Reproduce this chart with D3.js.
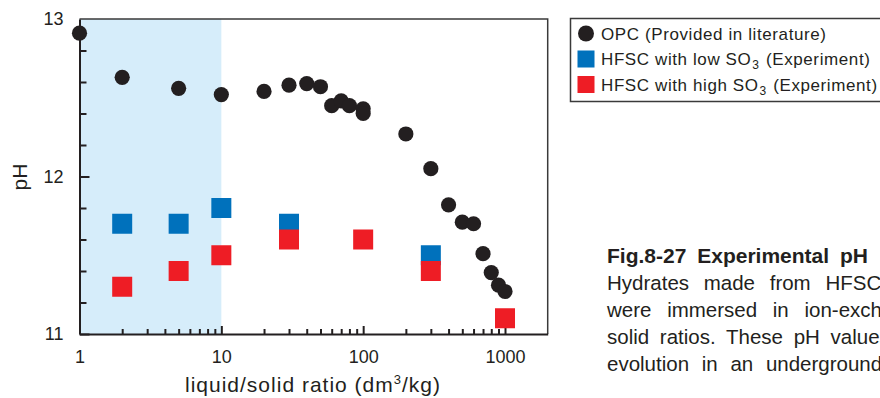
<!DOCTYPE html>
<html>
<head>
<meta charset="utf-8">
<script src="https://cdn.jsdelivr.net/npm/d3@7"></script>
<style>
  html, body { margin: 0; padding: 0; background: #fff; }
  svg { display: block; font-family: "Liberation Sans", Arial, sans-serif; }
</style>
</head>
<body>
<div id="chart"></div>
<script>
// ---- Data
const opcRatio = [1, 2, 5, 10, 20, 30, 40, 50, 60, 70, 80, 100, 100, 200, 300, 400, 500, 600, 700, 800, 900, 1000];
const opcPH    = [12.91, 12.63, 12.56, 12.52, 12.54, 12.58, 12.59, 12.57, 12.45, 12.48, 12.45, 12.43, 12.40, 12.27, 12.05, 11.82, 11.71, 11.70, 11.51, 11.39, 11.31, 11.27];

const lowRatio = [2, 5, 10, 30, 300];
const lowPH    = [11.70, 11.70, 11.80, 11.70, 11.50];

const highRatio = [2, 5, 10, 30, 100, 300, 1000];
const highPH    = [11.30, 11.40, 11.50, 11.60, 11.60, 11.40, 11.10];

const xMajor = [1, 10, 100, 1000];
const yMajor = [11, 12, 13];
const shadedRange = [1, 10];

const legendItems = [
  { text: 'OPC (Provided in literature)', sub: null, mark: 'circle', color: '#231f20' },
  { text: 'HFSC with low SO', sub: '3', rest: ' (Experiment)', mark: 'square', color: '#0071bc' },
  { text: 'HFSC with high SO', sub: '3', rest: ' (Experiment)', mark: 'square', color: '#ee1d25' }
];

// caption is justified in the source, so each line gets its own word spacing
const captionLines = [
  'Fig.8-27  Experimental pH',
  'Hydrates made from HFSC',
  'were immersed in ion-exchanged',
  'solid ratios. These pH values',
  'evolution in an underground'
];
const captionWordSpacing = [5, 9, 10, 5, 7];

// ---- Layout
const W = 880, H = 398;
const margin = { left: 79.5, top: 19, right: W - 547.7, bottom: H - 334 };
const ink = '#231f20';

const svg = d3.select('#chart').append('svg')
  .attr('width', W).attr('height', H);

const x = d3.scaleLog().domain([1, 2000]).range([margin.left, W - margin.right]);
const y = d3.scaleLinear().domain([11, 13]).range([H - margin.bottom, margin.top]);

// ---- Shaded band (liquid/solid 1–10)
svg.append('rect')
  .attr('x', x(shadedRange[0])).attr('y', y(13))
  .attr('width', x(shadedRange[1]) - x(shadedRange[0]))
  .attr('height', y(11) - y(13))
  .attr('fill', '#d6edfa');

// ---- Frame (top and right)
svg.append('path')
  .attr('d', `M${x(1)},${y(13)}H${x(2000)}V${y(11)}`)
  .attr('fill', 'none').attr('stroke', '#3a3a3a').attr('stroke-width', 1.5);

// ---- X axis (log), ticks pointing inward
const xMinor = [];
[1, 10, 100, 1000].forEach(dec => {
  for (let k = 2; k <= 9; k++) if (dec * k < 2000) xMinor.push(dec * k);
});

const xAxisG = svg.append('g')
  .attr('transform', `translate(0,${y(11)})`);
xAxisG.call(d3.axisBottom(x).tickValues(xMajor).tickFormat(d3.format('d'))
  .tickSize(-8).tickSizeOuter(0).tickPadding(16));
xAxisG.append('g').call(d3.axisBottom(x).tickValues(xMinor).tickFormat('')
  .tickSize(-5).tickSizeOuter(0))
  .select('.domain').remove();

// ---- Y axis, ticks pointing inward
const yMinor = d3.range(11.2, 13, 0.2).filter(v => Math.abs(v - 12) > 0.01);
const yAxisG = svg.append('g')
  .attr('transform', `translate(${x(1)},0)`);
yAxisG.call(d3.axisLeft(y).tickValues(yMajor).tickFormat(d3.format('d'))
  .tickSize(-10).tickSizeOuter(0).tickPadding(16));
yAxisG.append('g').call(d3.axisLeft(y).tickValues(yMinor).tickFormat('')
  .tickSize(-7).tickSizeOuter(0))
  .select('.domain').remove();

svg.selectAll('.domain').attr('stroke', ink).attr('stroke-width', 2);
svg.selectAll('.tick line').attr('stroke', ink).attr('stroke-width', 2);
svg.selectAll('.tick text').attr('fill', ink)
  .style('font-size', '18px').style('font-family', '"Liberation Sans", Arial, sans-serif');
yAxisG.selectAll('.tick').filter(d => d === 13).select('line').remove();

// ---- Axis titles
svg.append('text')
  .attr('x', 313).attr('y', 392)
  .attr('text-anchor', 'middle')
  .style('font-size', '21px').style('letter-spacing', '1px').attr('fill', ink)
  .call(t => {
    t.append('tspan').text('liquid/solid ratio (dm');
    t.append('tspan').text('3').attr('dy', -8).style('font-size', '13px');
    t.append('tspan').text('/kg)').attr('dy', 8);
  });

svg.append('text')
  .attr('transform', `translate(27,177) rotate(-90)`)
  .attr('text-anchor', 'middle')
  .style('font-size', '21px').attr('fill', ink)
  .text('pH');

// ---- Marks
const opc = opcRatio.map((r, i) => ({ r, v: opcPH[i] }));
const low = lowRatio.map((r, i) => ({ r, v: lowPH[i] }));
const high = highRatio.map((r, i) => ({ r, v: highPH[i] }));
const sq = 20;

svg.append('g').selectAll('circle').data(opc).join('circle')
  .attr('cx', d => x(d.r)).attr('cy', d => y(d.v)).attr('r', 7.6)
  .attr('fill', ink);

svg.append('g').selectAll('rect').data(low).join('rect')
  .attr('x', d => x(d.r) - sq / 2).attr('y', d => y(d.v) - sq / 2)
  .attr('width', sq).attr('height', sq)
  .attr('fill', legendItems[1].color);

svg.append('g').selectAll('rect').data(high).join('rect')
  .attr('x', d => x(d.r) - sq / 2).attr('y', d => y(d.v) - sq / 2)
  .attr('width', sq).attr('height', sq)
  .attr('fill', legendItems[2].color);

// ---- Legend
const lg = svg.append('g');
lg.append('rect')
  .attr('x', 570.5).attr('y', 18.5).attr('width', 340).attr('height', 83)
  .attr('fill', '#fff').attr('stroke', '#3a3a3a').attr('stroke-width', 1.5);

legendItems.forEach((it, i) => {
  const cy = 33.5 + i * 25.5;
  if (it.mark === 'circle') {
    lg.append('circle').attr('cx', 586).attr('cy', cy).attr('r', 8).attr('fill', it.color);
  } else {
    lg.append('rect').attr('x', 577.5).attr('y', cy - 8.5).attr('width', 17).attr('height', 17)
      .attr('fill', it.color);
  }
  const t = lg.append('text')
    .attr('x', 601).attr('y', cy + 6)
    .style('font-size', '17px').style('letter-spacing', '0.6px').attr('fill', ink);
  t.append('tspan').text(it.text);
  if (it.sub) {
    t.append('tspan').text(it.sub).attr('dx', 1).attr('dy', 4).style('font-size', '12px');
    t.append('tspan').text(it.rest).attr('dx', 1).attr('dy', -4);
  }
});

// ---- Caption (runs past the right edge)
const cap = svg.append('g');
captionLines.forEach((line, i) => {
  cap.append('text')
    .attr('x', 607)
    .attr('y', i === 0 ? 262.5 : 289.5 + (i - 1) * 27.2)
    .style('font-size', i === 0 ? '21px' : '20.5px')
    .style('word-spacing', captionWordSpacing[i] + 'px')
    .style('font-weight', i === 0 ? 'bold' : 'normal')
    .attr('fill', ink)
    .text(line);
});
</script>
</body>
</html>
